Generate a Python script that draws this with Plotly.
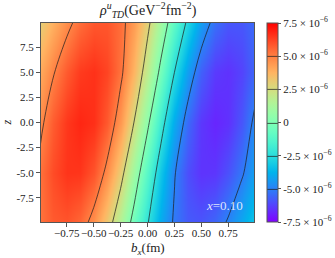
import math
import plotly.graph_objects as go

# impact-parameter grid (fm) and z values
bx_vals = [-1.0, -0.875, -0.75, -0.625, -0.5, -0.375, -0.25, -0.125, 0.0,
           0.125, 0.25, 0.375, 0.5, 0.625, 0.75, 0.875, 1.0]
z_vals = [-10.0, -5.0, 0.0, 5.0, 10.0]

# rho values in units of 1e-6 GeV^-2 fm^-2, one row per z value
rho_zm10 = [5.26, 5.77, 5.89, 5.51, 4.60, 3.19, 1.41, -0.53, -2.41, -4.01, -5.16, -5.78, -5.88, -5.53, -4.87, -4.04, -3.17]
rho_zm5 = [5.29, 6.07, 6.52, 6.50, 5.90, 4.71, 2.99, 0.93, -1.24, -3.27, -4.91, -6.02, -6.53, -6.48, -5.97, -5.16, -4.21]
rho_z0 = [4.70, 5.74, 6.46, 6.79, 6.60, 5.80, 4.39, 2.48, 0.29, -1.94, -3.94, -5.49, -6.45, -6.80, -6.59, -5.85, -4.75]
rho_zp5 = [3.96, 4.92, 5.79, 6.39, 6.57, 6.21, 5.25, 3.73, 1.78, -0.38, -2.49, -4.31, -5.65, -6.40, -6.56, -6.22, -5.51]
rho_zp10 = [2.95, 3.81, 4.67, 5.38, 5.83, 5.85, 5.37, 4.35, 2.86, 1.03, -0.92, -2.76, -4.28, -5.33, -5.84, -5.84, -5.42]

x_tickvals = [-0.75, -0.5, -0.25, 0.0, 0.25, 0.5, 0.75]
x_ticktext = ["\u22120.75", "\u22120.50", "\u22120.25", "0.00", "0.25", "0.50", "0.75"]
y_tickvals = [-7.5, -5.0, -2.5, 0.0, 2.5, 5.0, 7.5]
y_ticktext = ["-7.5", "-5.0", "-2.5", "0.0", "2.5", "5.0", "7.5"]
cb_tickvals = [-7.5, -5.0, -2.5, 0.0, 2.5, 5.0, 7.5]
cb_ticktext = ["-7.5 \u00d7 10<sup>\u22126</sup>", "-5.0 \u00d7 10<sup>\u22126</sup>",
               "-2.5 \u00d7 10<sup>\u22126</sup>", "0",
               "2.5 \u00d7 10<sup>\u22126</sup>", "5.0 \u00d7 10<sup>\u22126</sup>",
               "7.5 \u00d7 10<sup>\u22126</sup>"]

# matplotlib-like "rainbow" colormap
def rainbow(t):
    r = min(1.0, abs(2 * t - 0.5))
    g = math.sin(math.pi * t)
    b = math.cos(math.pi * t / 2)
    return "rgb(%d,%d,%d)" % (round(255 * r), round(255 * g), round(255 * b))

colorscale = [[i / 20, rainbow(i / 20)] for i in range(21)]

z_grid = [rho_zm10, rho_zm5, rho_z0, rho_zp5, rho_zp10]

serif = "Liberation Serif, Times New Roman, serif"

fig = go.Figure()
fig.add_trace(go.Contour(
    x=bx_vals, y=z_vals, z=z_grid,
    colorscale=colorscale, zmin=-7.5, zmax=7.5, zauto=False,
    autocontour=False,
    contours=dict(coloring="heatmap", start=-5, end=5, size=2.5, showlabels=False),
    line=dict(color="rgba(30,30,30,0.9)", width=0.8, smoothing=1),
    colorbar=dict(
        x=1.061, xanchor="left", y=0.5, yanchor="middle", len=1.0, lenmode="fraction",
        thickness=11, outlinecolor="#555", outlinewidth=1,
        tickmode="array", tickvals=cb_tickvals, ticktext=cb_ticktext,
        ticks="outside", ticklen=3, tickcolor="#555",
        tickfont=dict(family=serif, size=11, color="#222"),
        ypad=0, xpad=0,
    ),
    hoverinfo="skip",
))

fig.update_layout(
    width=335, height=258,
    margin=dict(l=41, r=81, t=23, b=36, autoexpand=False),
    paper_bgcolor="white", plot_bgcolor="white",
    font=dict(family=serif, color="#222"),
    showlegend=False,
    xaxis=dict(range=[-0.99, 0.99], tickmode="array", tickvals=x_tickvals, ticktext=x_ticktext,
               ticks="outside", ticklen=4, tickcolor="#555", showgrid=False, zeroline=False,
               showline=True, linecolor="#555", linewidth=1, mirror=True, tickangle=0,
               automargin=False, ticklabelstandoff=-3,
               tickfont=dict(family=serif, size=11, color="#222")),
    yaxis=dict(range=[-9.9, 9.9], tickmode="array", tickvals=y_tickvals, ticktext=y_ticktext,
               ticks="outside", ticklen=4, tickcolor="#555", showgrid=False, zeroline=False,
               showline=True, linecolor="#555", linewidth=1, mirror=True, automargin=False,
               tickfont=dict(family=serif, size=11, color="#222")),
    annotations=[
        dict(text="<i>\u03c1</i><sup><i>u</i></sup><sub><i>TD</i></sub>(GeV<sup>\u22122</sup>fm<sup>\u22122</sup>)",
             xref="paper", yref="paper", x=0.5, y=1.0, xanchor="center", yanchor="bottom",
             yshift=1, showarrow=False, font=dict(family=serif, size=14, color="#222")),
        dict(text="<i>b</i><sub><i>x</i></sub>(fm)", xref="paper", yref="paper",
             x=0.5, y=0, xanchor="center", yanchor="top", yshift=-16, showarrow=False,
             font=dict(family=serif, size=13, color="#222")),
        dict(text="<i>z</i>", xref="paper", yref="paper", x=0, y=0.5, xanchor="right",
             yanchor="middle", xshift=-26, textangle=-90, showarrow=False,
             font=dict(family=serif, size=12, color="#222")),
        dict(text="<i>x</i>=0.10", xref="paper", yref="paper", x=0.96, y=0.085,
             xanchor="right", yanchor="middle", showarrow=False,
             font=dict(family=serif, size=13, color="rgba(235,240,255,0.95)")),
    ],
)

fig.write_html("out.html", config={"displayModeBar": False},
               post_script="document.body.style.margin='0px';")
